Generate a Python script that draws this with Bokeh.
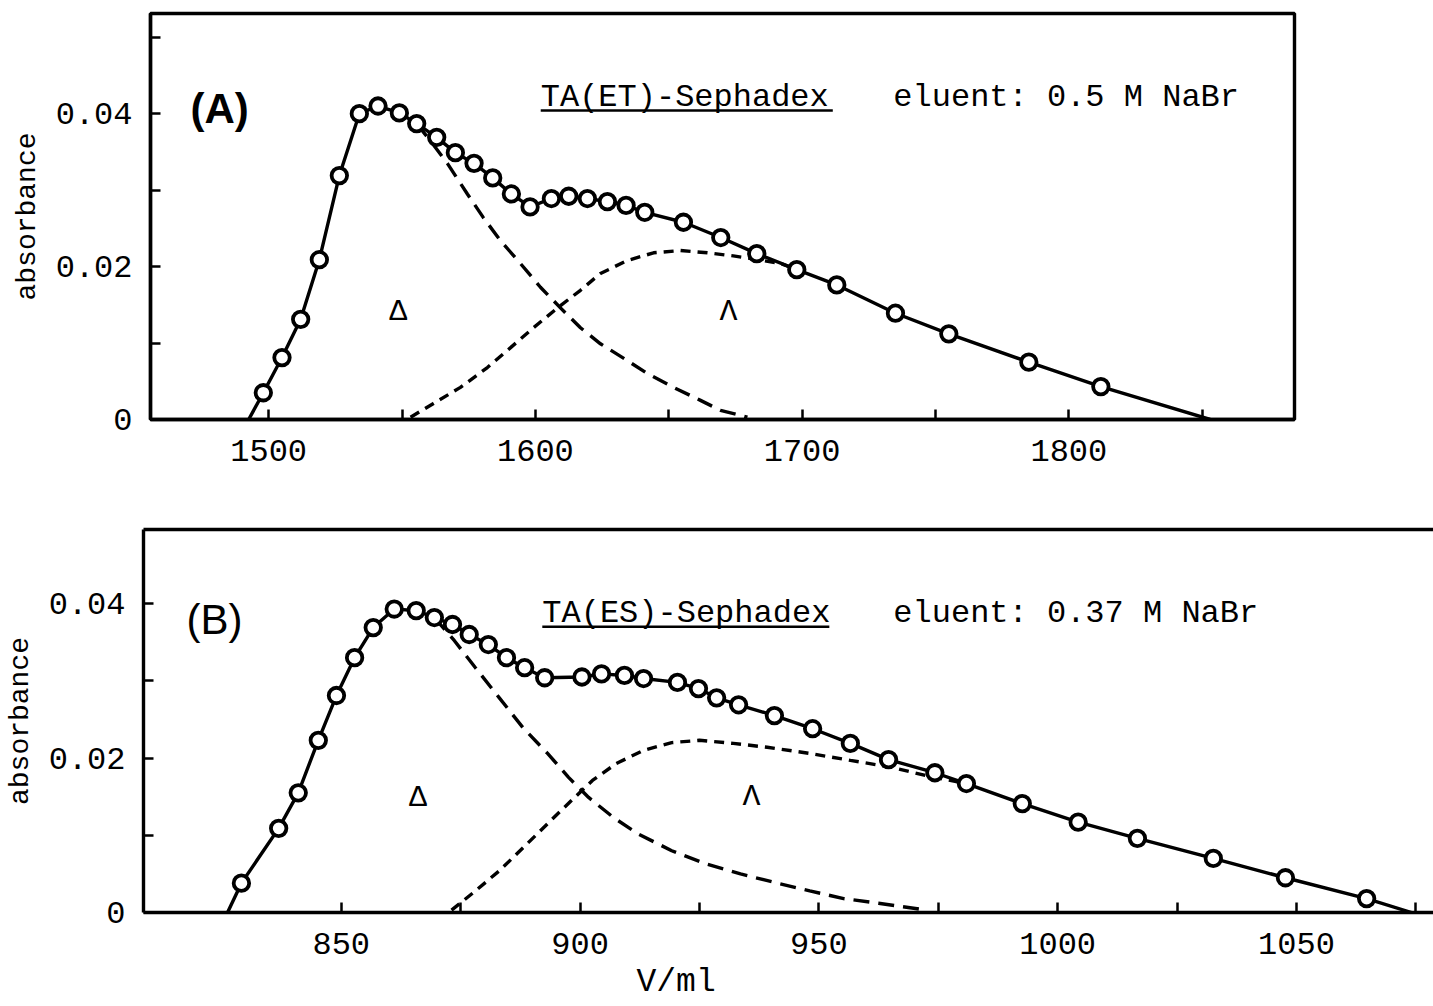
from bokeh.plotting import figure
from bokeh.models import Range1d, FixedTicker, Label, LinearAxis, Title
from bokeh.layouts import column
from bokeh.embed import file_html
from bokeh.resources import INLINE

# ---------------- Panel A data: TA(ET)-Sephadex, 0.5 M NaBr ----------------
a_vol = [1498, 1505, 1512, 1519, 1526.5, 1534, 1541, 1549, 1555.5, 1563, 1570, 1577,
         1584, 1591, 1598, 1606, 1612.5, 1619.5, 1627, 1634, 1641, 1655.5, 1669.5,
         1683, 1698, 1713, 1735, 1755, 1785, 1812]
a_abs = [0.0035, 0.0081, 0.0131, 0.0209, 0.0319, 0.0400, 0.0410, 0.0401, 0.0387,
         0.0369, 0.0349, 0.0335, 0.0316, 0.0295, 0.0278, 0.0289, 0.0292, 0.0289,
         0.0285, 0.0280, 0.0271, 0.0258, 0.0238, 0.0217, 0.0196, 0.0176, 0.0139,
         0.0112, 0.0075, 0.0043]
a_fit_start = (1492.5, 0.0)
a_fit_end = (1853.0, 0.0)
a_delta_vol = [1555.5, 1561.4, 1567.0, 1574.5, 1580.5, 1586.9, 1594.4, 1601.9, 1609.4,
               1616.9, 1624.4, 1634.5, 1642.0, 1651.8, 1661.9, 1669.4, 1679.5]
a_delta_abs = [0.0387, 0.0361, 0.0335, 0.0295, 0.0264, 0.0234, 0.0204, 0.0173, 0.0146,
               0.0120, 0.0099, 0.0077, 0.0060, 0.0042, 0.0025, 0.0012, 0.0003]
a_lambda_vol = [1553.2, 1561.8, 1571.9, 1582.0, 1590.7, 1599.3, 1608.3, 1616.9, 1624.4,
                1634.5, 1644.3, 1654.4, 1664.5, 1674.2, 1681.9, 1691.9, 1698.0]
a_lambda_abs = [0.0003, 0.0021, 0.0042, 0.0068, 0.0094, 0.0120, 0.0146, 0.0169, 0.0191,
                0.0208, 0.0218, 0.0221, 0.0218, 0.0214, 0.0210, 0.0204, 0.0196]

# ---------------- Panel B data: TA(ES)-Sephadex, 0.37 M NaBr ----------------
b_vol = [829.1, 836.9, 841.0, 845.2, 849.0, 852.8, 856.7, 861.1, 865.7, 869.5, 873.3,
         876.8, 880.8, 884.6, 888.4, 892.6, 900.4, 904.5, 909.3, 913.3, 920.4, 924.8,
         928.6, 933.2, 940.7, 948.7, 956.6, 964.6, 974.3, 980.9, 992.6, 1004.3,
         1016.7, 1032.6, 1047.7, 1064.7]
b_abs = [0.0038, 0.0109, 0.0155, 0.0223, 0.0281, 0.0330, 0.0369, 0.0393, 0.0391,
         0.0382, 0.0373, 0.0360, 0.0347, 0.0330, 0.0317, 0.0304, 0.0305, 0.0309,
         0.0307, 0.0303, 0.0298, 0.0290, 0.0278, 0.0269, 0.0255, 0.0238, 0.0219,
         0.0198, 0.0181, 0.0167, 0.0141, 0.0117, 0.0096, 0.0070, 0.0045, 0.0018]
b_fit_start = (826.2, 0.0)
b_fit_end = (1074.1, 0.0)
b_delta_vol = [869.5, 873.7, 878.1, 883.1, 888.1, 893.2, 897.6, 901.8, 907.0, 912.1,
               919.2, 926.3, 933.6, 940.7, 948.1, 955.2, 962.5, 972.6]
b_delta_abs = [0.0382, 0.0352, 0.0317, 0.0278, 0.0239, 0.0206, 0.0175, 0.0149, 0.0123,
               0.0102, 0.0080, 0.0063, 0.0050, 0.0039, 0.0028, 0.0018, 0.0012, 0.0003]
b_lambda_vol = [873.1, 878.1, 883.1, 888.1, 893.2, 898.2, 902.6, 907.6, 913.3, 919.2,
                925.0, 932.1, 939.2, 948.1, 956.6, 965.3, 972.6, 980.9]
b_lambda_abs = [0.0003, 0.0028, 0.0054, 0.0084, 0.0115, 0.0145, 0.0171, 0.0193, 0.0210,
                0.0220, 0.0223, 0.0219, 0.0214, 0.0206, 0.0197, 0.0188, 0.0177, 0.0167]

y_major = [0, 0.02, 0.04]
y_minor = [0.01, 0.03, 0.05]
y_labels = {0: "0", 0.02: "0.02", 0.04: "0.04"}
a_x_major = [1500, 1600, 1700, 1800]
a_x_minor = [1550, 1650, 1750, 1850]
b_x_major = [850, 900, 950, 1000, 1050]
b_x_minor = [875, 925, 975, 1025, 1075]

MONO = "Liberation Mono"
LW = 3.4


def style_axis(ax, major, minor, labels=None):
    ax.ticker = FixedTicker(ticks=major, minor_ticks=minor)
    ax.axis_line_width = LW
    ax.axis_line_color = "black"
    ax.major_tick_in = 10
    ax.major_tick_out = 0
    ax.minor_tick_in = 10
    ax.minor_tick_out = 0
    ax.major_tick_line_width = 2.5
    ax.minor_tick_line_width = 2.5
    ax.major_label_text_font = MONO
    ax.major_label_text_font_size = "32px"
    ax.major_label_text_color = "black"
    if labels:
        ax.major_label_overrides = labels


def style_ylabel(ax):
    ax.axis_label = "absorbance"
    ax.axis_label_text_font = MONO
    ax.axis_label_text_font_size = "28px"
    ax.axis_label_text_font_style = "normal"
    ax.axis_label_text_color = "black"
    ax.axis_label_standoff = 10


def make_panel(width, height, xr, yr, borders):
    p = figure(width=width, height=height, x_range=Range1d(*xr), y_range=Range1d(*yr),
               output_backend="svg", toolbar_location=None,
               min_border_left=borders[0], min_border_right=borders[1],
               min_border_top=borders[2], min_border_bottom=borders[3])
    p.frame_align = False
    p.xgrid.visible = False
    p.ygrid.visible = False
    p.background_fill_color = "white"
    p.border_fill_color = "white"
    return p


def draw(p, vol, ab, fs, fe, dv, da, lv, la):
    p.line(lv, la, line_color="black", line_width=LW, line_dash="10 7")
    p.line(dv, da, line_color="black", line_width=LW, line_dash="16 9")
    fx = [fs[0]] + vol + [fe[0]]
    fy = [fs[1]] + ab + [fe[1]]
    p.line(fx, fy, line_color="black", line_width=LW)
    p.scatter(vol, ab, marker="circle", size=15.5, line_color="black", line_width=3.8,
              fill_color="white")


def txt(p, x, y, s, size, font=MONO, style="normal", align="left", baseline="alphabetic"):
    p.add_layout(Label(x=x, y=y, text=s, text_font=font, text_font_size=size,
                       text_font_style=style, text_align=align, text_baseline=baseline,
                       text_color="black"))


# ---------------- Panel A ----------------
pA = make_panel(1433, 490, (1455.7, 1884.6), (0, 0.0531), (150, 139, 13, 71))
pA.outline_line_color = "black"
pA.outline_line_width = LW
style_axis(pA.xaxis[0], a_x_major, a_x_minor)
pA.xaxis[0].major_label_standoff = 20
style_axis(pA.yaxis[0], y_major, y_minor, y_labels)
pA.yaxis[0].major_label_standoff = 18
style_ylabel(pA.yaxis[0])
draw(pA, a_vol, a_abs, a_fit_start, a_fit_end, a_delta_vol, a_delta_abs,
     a_lambda_vol, a_lambda_abs)
txt(pA, 1470.7, 0.0407, "(A)", "42px", font="Liberation Sans", style="bold")
txt(pA, 1602.0, 0.0421, "TA(ET)-Sephadex", "32px")
pA.line([1602.0, 1711.5], [0.0404, 0.0404], line_color="black", line_width=2.5)
txt(pA, 1734.2, 0.0421, "eluent: 0.5 M NaBr", "32px")
txt(pA, 1548.6, 0.0141, "Δ", "30px", align="center", baseline="middle")
txt(pA, 1672.4, 0.0141, "Λ", "30px", align="center", baseline="middle")

# ---------------- Panel B ----------------
pB = make_panel(1433, 516, (808.6, 1078.7), (0, 0.0496), (143, 0, 39, 94))
pB.outline_line_color = None
style_axis(pB.xaxis[0], b_x_major, b_x_minor)
pB.xaxis[0].major_label_standoff = 20
style_axis(pB.yaxis[0], y_major, y_minor, y_labels)
pB.yaxis[0].major_label_standoff = 18
style_ylabel(pB.yaxis[0])
top_axis = LinearAxis(ticker=FixedTicker(ticks=[]), axis_line_width=LW,
                      major_label_text_font_size="0px")
pB.add_layout(top_axis, "above")
draw(pB, b_vol, b_abs, b_fit_start, b_fit_end, b_delta_vol, b_delta_abs,
     b_lambda_vol, b_lambda_abs)
txt(pB, 817.6, 0.0380, "(B)", "42px", font="Liberation Sans")
txt(pB, 892.1, 0.0387, "TA(ES)-Sephadex", "32px")
pB.line([892.1, 952.2], [0.0370, 0.0370], line_color="black", line_width=2.5)
txt(pB, 965.6, 0.0387, "eluent: 0.37 M NaBr", "32px")
txt(pB, 866.1, 0.0148, "Δ", "30px", align="center", baseline="middle")
txt(pB, 935.9, 0.0149, "Λ", "30px", align="center", baseline="middle")
pB.add_layout(Title(text="V/ml", align="left", offset=493, text_font=MONO,
                    text_font_size="33px", text_font_style="normal",
                    text_color="black", standoff=11), "below")

layout = column(pA, pB, spacing=0)
open("out.html", "w").write(file_html(layout, INLINE))
